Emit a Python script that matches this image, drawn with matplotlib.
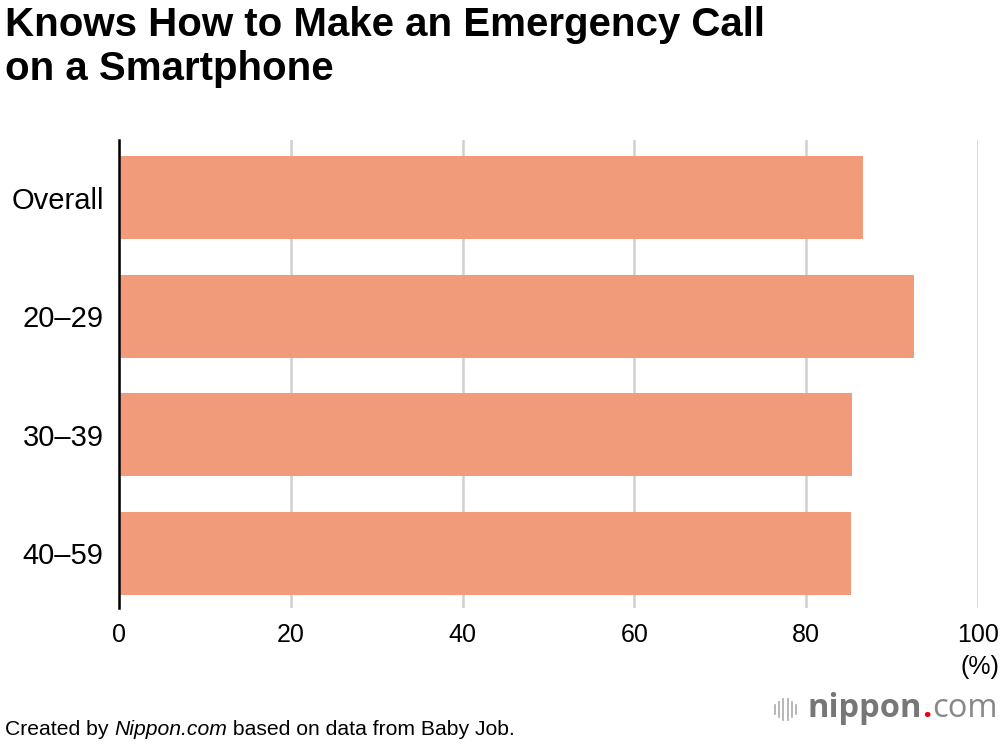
import matplotlib.pyplot as plt
import numpy as np

plt.rcParams['font.family'] = ['Liberation Sans', 'DejaVu Sans']

# Data
categories = ['Overall', '20–29', '30–39', '40–59']
values = [86.6, 92.6, 85.3, 85.2]
xticks = [0, 20, 40, 60, 80, 100]

bar_color = '#f19b7a'

fig = plt.figure(figsize=(10, 7.44), dpi=100)
ax = fig.add_axes([0.119, 0.183, 0.859, 0.629])

y = np.arange(len(categories))
ax.barh(y, values, height=0.7, color=bar_color, zorder=3)

ax.set_xlim(0, 100)
ax.set_ylim(3.46, -0.49)
ax.set_xticks(xticks)
ax.set_xticklabels([str(t) for t in xticks], fontsize=18)
ax.set_yticks(y)
ax.set_yticklabels(categories, fontsize=21)
ax.tick_params(axis='y', length=0, pad=11)
ax.tick_params(axis='x', length=0, pad=11)

ax.grid(axis='x', color='#d0d0d0', linewidth=1.8, zorder=0)
for s in ['top', 'right', 'bottom']:
    ax.spines[s].set_visible(False)
ax.spines['left'].set_linewidth(1.8)
ax.spines['left'].set_color('black')
ax.spines['left'].set_zorder(4)

# unit label
fig.text(0.999, 0.103, '(%)', ha='right', va='center', fontsize=18)

# title
fig.text(0.005, 0.992, 'Knows How to Make an Emergency Call\non a Smartphone',
         ha='left', va='top', fontsize=29, fontweight='bold', linespacing=1.2)

renderer = fig.canvas.get_renderer()


def place_pieces(pieces, x0, y0):
    # pieces: list of (text, kwargs); laid out one after another in pixels
    x = x0
    for s, kw in pieces:
        t = fig.text(x / 1000, y0, s, ha='left', va='baseline', **kw)
        x += t.get_window_extent(renderer).width
    return x


# footer
place_pieces([('Created by ', dict(fontsize=15.2)),
              ('Nippon.com', dict(fontsize=15.2, style='italic')),
              (' based on data from Baby Job.', dict(fontsize=15.2))], 5, 0.012)

# logo
for i, h in enumerate([0.012, 0.02, 0.028, 0.028, 0.02, 0.012]):
    fig.add_artist(plt.Line2D([0.775 + i * 0.0042] * 2, [0.046 - h / 2, 0.046 + h / 2],
                              color='#aaaaaa', linewidth=1.2))
place_pieces([('nippon', dict(fontsize=23.5, fontweight='bold', color='#777777', family='Open Sans')),
              ('.', dict(fontsize=23.5, fontweight='bold', color='#e60012', family='Open Sans')),
              ('com', dict(fontsize=23.5, color='#888888', family='Open Sans'))], 808, 0.036)

fig.savefig('out.png', dpi=100)
